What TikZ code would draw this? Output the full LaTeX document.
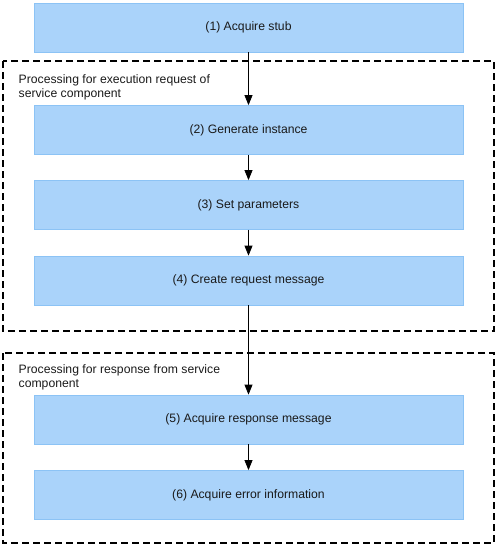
\documentclass[tikz,border=0pt]{standalone}
\usepackage{fontspec}
\setmainfont{Liberation Sans}
\usetikzlibrary{arrows.meta}
\definecolor{boxfill}{HTML}{AAD3FA}
\definecolor{boxline}{HTML}{8CC3F5}
\definecolor{txt}{HTML}{1A1A1A}
\begin{document}
\begin{tikzpicture}[x=1pt,y=-1pt,
  stepbox/.style={draw=boxline,fill=boxfill,line width=0.8pt,minimum width=429pt,minimum height=49pt,inner sep=0pt,text=txt,font=\fontsize{12.2}{14}\selectfont},
  group/.style={draw=black,line width=1.8pt,dash pattern=on 7pt off 4pt},
  grouplabel/.style={anchor=north west,align=left,inner sep=0pt,text=txt,font=\fontsize{12.2}{14}\selectfont},
  conn/.style={draw=black,line width=0.8pt,-{Triangle[length=10pt,width=8pt]}}]
\useasboundingbox (0,0) rectangle (499,547);
\draw[group] (3,61) rectangle (494,331);
\draw[group] (3,353) rectangle (494,543);
\node[grouplabel] (g1) at (18.5,74) {Processing for execution request of\\service component};
\node[grouplabel] (g2) at (18.5,364) {Processing for response from service\\component};
\node[stepbox] (b1) at (248.5,27.5) {(1) Acquire stub};
\node[stepbox] (b2) at (248.5,130) {(2) Generate instance};
\node[stepbox] (b3) at (248.5,205) {(3) Set parameters};
\node[stepbox] (b4) at (248.5,280.5) {(4) Create request message};
\node[stepbox] (b5) at (248.5,419.5) {(5) Acquire response message};
\node[stepbox] (b6) at (248.5,495) {(6) Acquire error information};
\draw[conn] (b1) -- (b2);
\draw[conn] (b2) -- (b3);
\draw[conn] (b3) -- (b4);
\draw[conn] (b4) -- (b5);
\draw[conn] (b5) -- (b6);
\end{tikzpicture}
\end{document}
